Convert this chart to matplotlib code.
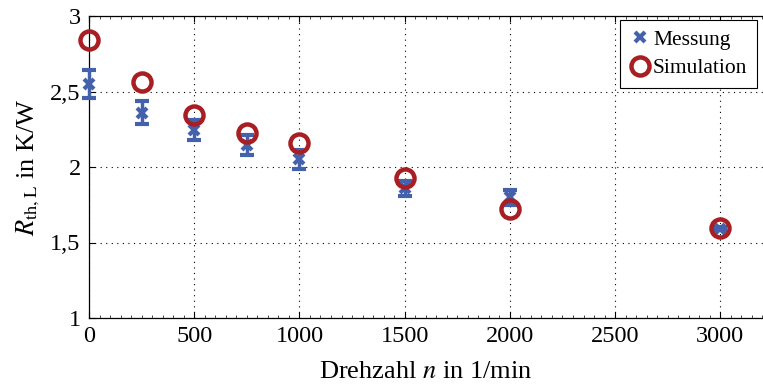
import numpy as np
import matplotlib
matplotlib.use('Agg')
import matplotlib.pyplot as plt
from matplotlib.ticker import MultipleLocator, FuncFormatter
from matplotlib.lines import Line2D

plt.rcParams['font.family'] = ['Liberation Serif', 'DejaVu Serif']
plt.rcParams['mathtext.fontset'] = 'stix'

# Daten
drehzahl_mess = [0, 250, 500, 750, 1000, 1500, 2000, 3000]
r_mess = [2.55, 2.36, 2.245, 2.145, 2.05, 1.86, 1.80, 1.59]
r_mess_err = [0.09, 0.075, 0.065, 0.065, 0.06, 0.05, 0.05, 0.01]

drehzahl_sim = [0, 250, 500, 750, 1000, 1500, 2000, 3000]
r_sim = [2.84, 2.56, 2.345, 2.225, 2.16, 1.93, 1.725, 1.595]

x_ticks = [0, 500, 1000, 1500, 2000, 2500, 3000]
y_ticks = [1, 1.5, 2, 2.5, 3]

blau = '#4462ac'
rot = '#a81e22'

fig = plt.figure(figsize=(7.63, 3.84), dpi=100)
ax = fig.add_axes([89 / 763, 66 / 384, 674 / 763, 302 / 384])

eb = ax.errorbar(drehzahl_mess, r_mess, yerr=r_mess_err, fmt='x', color=blau,
                 markersize=7, markeredgewidth=3, elinewidth=2.5, capsize=5,
                 capthick=2.5, zorder=3)
for art in eb.lines[0:1] + tuple(eb.lines[1]) + tuple(eb.lines[2]):
    art.set_clip_on(False)
ax.plot(drehzahl_sim, r_sim, 'o', markerfacecolor='none', markeredgecolor=rot,
        markersize=13, markeredgewidth=3.2, zorder=4, clip_on=False)

ax.set_xlim(0, 3203)
ax.set_ylim(1, 3)
ax.set_xticks(x_ticks)
ax.set_yticks(y_ticks)
ax.xaxis.set_minor_locator(MultipleLocator(50))
ax.yaxis.set_major_formatter(FuncFormatter(lambda v, p: ('%g' % v).replace('.', ',')))

ax.tick_params(which='major', direction='in', length=4, width=0.8, top=True,
               labelsize=17.5, pad=6)
ax.tick_params(which='minor', direction='in', length=2, width=0.5, top=True)
ax.spines['right'].set_visible(False)
for s in ['left', 'top', 'bottom']:
    ax.spines[s].set_linewidth(0.9)

ax.grid(True, which='major', color='black', linestyle=(0, (1, 4)), linewidth=0.8)

ax.set_xlabel('Drehzahl $n$ in 1/min', fontsize=19, labelpad=10)
ax.set_ylabel(r'$R_{\mathrm{th,L}}$ in K/W', fontsize=19, labelpad=6)

handles = [
    Line2D([], [], linestyle='none', marker='x', color=blau, markersize=7,
           markeredgewidth=3),
    Line2D([], [], linestyle='none', marker='o', markerfacecolor='none',
           markeredgecolor=rot, markersize=13, markeredgewidth=3.2),
]
leg = ax.legend(handles, ['Messung', 'Simulation'], loc='upper right',
                bbox_to_anchor=(668 / 674, 298 / 302), borderaxespad=0,
                fontsize=15.5, frameon=True, fancybox=False,
                edgecolor='black', framealpha=1, handletextpad=0.1,
                handlelength=1.0, borderpad=0.45, labelspacing=0.4)
leg.get_frame().set_linewidth(0.8)

fig.savefig('out.png', dpi=100)
